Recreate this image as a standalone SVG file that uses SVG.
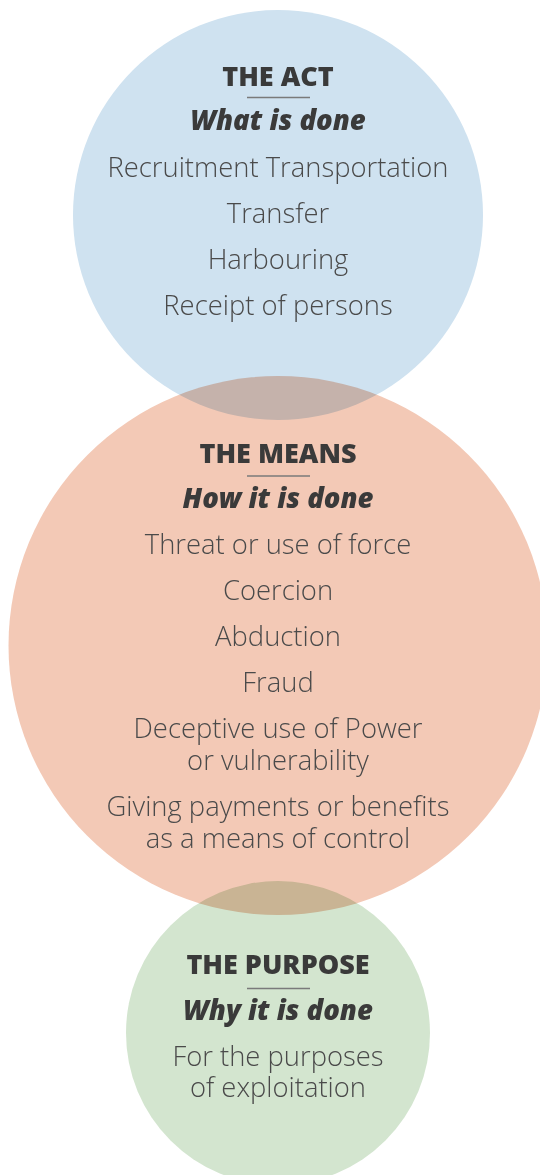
<svg xmlns="http://www.w3.org/2000/svg" width="540" height="1175" viewBox="0 0 540 1175">
  <style>
    .disc { mix-blend-mode: multiply; }
    .title { font-family: "Open Sans", "Liberation Sans", sans-serif; font-weight: 800; font-size: 27px; fill: #3a3a3a; text-anchor: middle; }
    .sub { font-family: "Open Sans", "Liberation Sans", sans-serif; font-weight: 800; font-style: italic; font-size: 27.5px; fill: #3a3a3a; text-anchor: middle; }
    .item { font-family: "Open Sans", "Liberation Sans", sans-serif; font-weight: 300; font-size: 27.4px; fill: #4a4a4a; text-anchor: middle; }
    .rule { stroke: #7a7a7a; stroke-width: 1.5; }
  </style>
  <rect width="540" height="1175" fill="#ffffff"/>

  <!-- The act -->
  <g id="act">
    <circle class="disc" cx="278" cy="215" r="205" fill="#cfe2f0"/>
  </g>
  <!-- The means -->
  <g id="means">
    <circle class="disc" cx="278" cy="645.5" r="269.5" fill="#f3c9b6"/>
  </g>
  <!-- The purpose -->
  <g id="purpose">
    <circle class="disc" cx="278" cy="1033" r="152" fill="#d3e5cf"/>
  </g>

  <g id="act-text">
    <text class="title" x="278" y="86">THE ACT</text>
    <line class="rule" x1="247" y1="97.5" x2="310" y2="97.5"/>
    <text class="sub" x="278" y="130">What is done</text>
    <text class="item" x="278" y="177">Recruitment Transportation</text>
    <text class="item" x="278" y="223">Transfer</text>
    <text class="item" x="278" y="269">Harbouring</text>
    <text class="item" x="278" y="315">Receipt of persons</text>
  </g>

  <g id="means-text">
    <text class="title" x="278" y="463">THE MEANS</text>
    <line class="rule" x1="247" y1="476" x2="310" y2="476"/>
    <text class="sub" x="278" y="508">How it is done</text>
    <text class="item" x="278" y="554">Threat or use of force</text>
    <text class="item" x="278" y="600">Coercion</text>
    <text class="item" x="278" y="646">Abduction</text>
    <text class="item" x="278" y="692">Fraud</text>
    <text class="item" x="278" y="738">Deceptive use of Power</text>
    <text class="item" x="278" y="770">or vulnerability</text>
    <text class="item" x="278" y="816">Giving payments or benefits</text>
    <text class="item" x="278" y="848">as a means of control</text>
  </g>

  <g id="purpose-text">
    <text class="title" x="278" y="974">THE PURPOSE</text>
    <line class="rule" x1="247" y1="988.5" x2="310" y2="988.5"/>
    <text class="sub" x="278" y="1020">Why it is done</text>
    <text class="item" x="278" y="1066">For the purposes</text>
    <text class="item" x="278" y="1097">of exploitation</text>
  </g>

  <g id="connectors"/>
</svg>
